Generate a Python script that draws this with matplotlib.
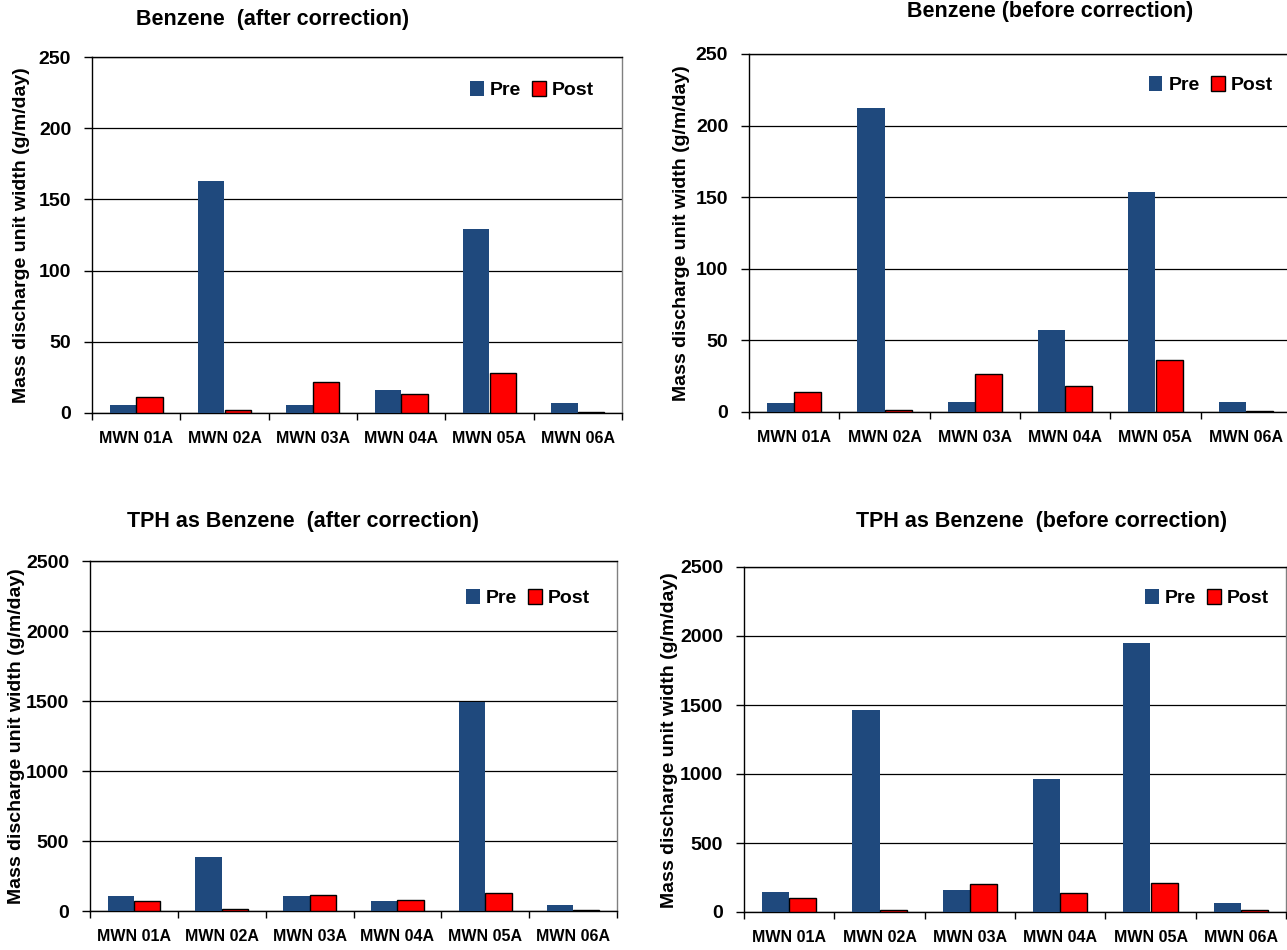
import matplotlib
matplotlib.use("Agg")
import matplotlib.pyplot as plt
import numpy as np

plt.rcParams['font.family'] = ['Liberation Sans', 'DejaVu Sans']

categories = ["MWN 01A", "MWN 02A", "MWN 03A", "MWN 04A", "MWN 05A", "MWN 06A"]

benz_after_pre = [5.6, 163, 5.6, 16.1, 129, 7.2]
benz_after_post = [11.5, 1.9, 21.5, 13.6, 28.3, 1.0]

benz_before_pre = [6.3, 212.5, 7.0, 57.6, 153.5, 7.0]
benz_before_post = [13.8, 1.6, 26.6, 18.0, 36.4, 0.9]

tph_after_pre = [110, 388, 110, 72, 1490, 45]
tph_after_post = [69, 14, 117, 79, 131, 10]

tph_before_pre = [143, 1464, 157, 964, 1949, 63]
tph_before_post = [101, 17, 205, 135, 213, 17]

W, H = 1287, 950
PRE_C = "#1F497D"
POST_C = "#FF0000"

fig = plt.figure(figsize=(W / 100, H / 100), dpi=100)


def add_ax(left, right, top, bottom):
    return fig.add_axes([left / W, 1 - bottom / H, (right - left) / W, (bottom - top) / H])


panels = [
    dict(box=(92, 622, 57, 413), pre=benz_after_pre, post=benz_after_post,
         ymax=250, step=50, leg=(0.83, 0.907),
         title="Benzene  (after correction)", tpos=(273, 20), ylab=(22, 235)),
    dict(box=(749, 1291, 54, 412), pre=benz_before_pre, post=benz_before_post,
         ymax=250, step=50, leg=(0.852, 0.913),
         title="Benzene (before correction)", tpos=(1050, 12), ylab=(682, 233)),
    dict(box=(90, 617, 561, 911), pre=tph_after_pre, post=tph_after_post,
         ymax=2500, step=500, leg=(0.831, 0.894),
         title="TPH as Benzene  (after correction)", tpos=(303, 522), ylab=(17, 736)),
    dict(box=(744, 1286, 567, 912), pre=tph_before_pre, post=tph_before_post,
         ymax=2500, step=500, leg=(0.854, 0.91),
         title="TPH as Benzene  (before correction)", tpos=(1042, 521), ylab=(669, 740)),
]

x = np.arange(len(categories)) + 0.5
bw = 0.3

for p in panels:
    ax = add_ax(*p["box"])
    ax.bar(x - bw / 2, p["pre"], width=bw, color=PRE_C, edgecolor="none", label="Pre", zorder=3)
    ax.bar(x + bw / 2, p["post"], width=bw, color=POST_C, edgecolor="black", linewidth=1.0,
           label="Post", zorder=3)
    ax.set_xlim(0, len(categories))
    ax.set_ylim(0, p["ymax"])
    ax.set_yticks(np.arange(0, p["ymax"] + 1, p["step"]))
    ax.yaxis.grid(True, color="black", linewidth=0.9, zorder=0)
    ax.set_axisbelow(True)
    ax.set_xticks(np.arange(0, len(categories) + 1))
    ax.set_xticklabels([])
    ax.set_xticks(x, minor=True)
    ax.set_xticklabels(categories, minor=True, fontsize=11.5, fontweight="bold")
    ax.tick_params(axis="x", which="major", length=5, width=1, direction="out")
    ax.tick_params(axis="x", which="minor", length=0, pad=13)
    ax.tick_params(axis="y", length=6, width=1, direction="out", pad=9,
                   labelsize=14)
    for lab in ax.get_yticklabels():
        lab.set_fontweight("bold")
    for s in ["left", "bottom", "top"]:
        ax.spines[s].set_color("black")
        ax.spines[s].set_linewidth(1.0)
    ax.spines["right"].set_color("#808080")
    ax.spines["right"].set_linewidth(1.0)
    ax.legend(loc="center", bbox_to_anchor=p["leg"], ncol=2, frameon=False,
              handlelength=0.7, handleheight=0.8, handletextpad=0.3,
              columnspacing=0.6, prop=dict(size=14, weight="bold"))
    fig.text(p["tpos"][0] / W, 1 - p["tpos"][1] / H, p["title"], ha="center", va="center",
             fontsize=15.5, fontweight="bold")
    fig.text(p["ylab"][0] / W, 1 - p["ylab"][1] / H, "Mass discharge unit width (g/m/day)",
             rotation=90, ha="center", va="center", fontsize=14, fontweight="bold")

fig.savefig("out.png", dpi=100)
